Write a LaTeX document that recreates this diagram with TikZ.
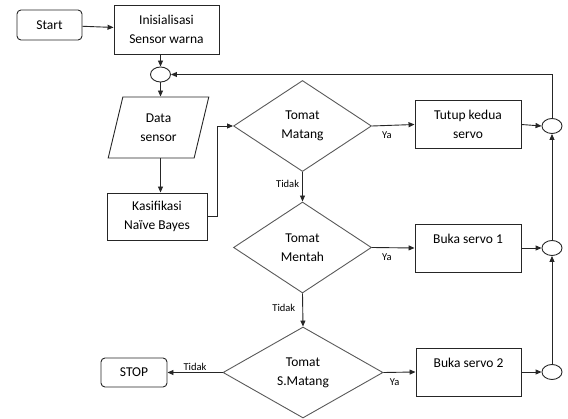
\documentclass[tikz,border=0pt]{standalone}
\usepackage{fontspec}
\setmainfont{Carlito}
\usetikzlibrary{shapes.geometric,arrows.meta}
\begin{document}
\begin{tikzpicture}[x=1pt,y=-1pt,
  every node/.style={font=\fontsize{13.5}{19}\selectfont, align=center, inner sep=0pt},
  proc/.style={draw=black!85, line width=0.9pt, minimum width=106pt, minimum height=48pt},
  term/.style={draw=black!85, line width=0.9pt, rounded corners=4pt, minimum width=65pt, minimum height=30pt},
  dec/.style={diamond, draw=black!65, line width=0.9pt, minimum width=138pt, minimum height=91pt, aspect=1.5},
  io/.style={trapezium, trapezium left angle=75, trapezium right angle=105, trapezium stretches=true, draw=black!85, line width=0.9pt, minimum width=101pt, minimum height=61pt},
  junc/.style={ellipse, draw=black!85, line width=0.9pt, minimum width=20pt, minimum height=15pt},
  lbl/.style={font=\fontsize{10.5}{12}\selectfont},
  conn/.style={draw=black!85, line width=0.9pt},
  arr/.style={conn, -{Triangle[length=6pt,width=5pt]}}
]
\useasboundingbox (0,0) rectangle (568,419);

\node[term] (start) at (49.5,25) {Start};
\node[proc, minimum width=105pt, minimum height=49pt] (init) at (166.5,29.5) {Inisialisasi\\Sensor warna};
\node[junc] (c1) at (160.5,74.5) {};
\node[io] (data) at (158.5,127.5) {Data\\sensor};
\node[proc, minimum width=100pt, minimum height=47pt] (kas) at (157,216.5) {Kasifikasi\\Naïve Bayes};

\node[dec] (d1) at (302.5,126) {Tomat\\Matang};
\node[dec] (d2) at (302.5,247.5) {Tomat\\Mentah};
\node[dec, minimum width=160pt] (d3) at (303,372.5) {Tomat\\S.Matang};

\node[proc] (p1) at (468,124.5) {Tutup kedua\\servo};
\node[proc] (p2) at (468,248) {Buka servo 1\\\mbox{}};
\node[proc, minimum width=105pt] (p3) at (468.5,372) {Buka servo 2\\\mbox{}};

\node[junc] (c2) at (552,126) {};
\node[junc] (c3) at (552,248) {};
\node[junc] (c4) at (552,372) {};

\node[term, minimum width=66pt, minimum height=29pt] (stop) at (134,372.5) {STOP};

\draw[arr] (start) -- (init);
\draw[arr] (init.south -| c1) -- (c1);
\draw[arr] (c1) -- (data.north -| c1);
\draw[arr] (data.south -| c1) -- (kas.north -| c1);
\draw[arr] (kas.east) -- ++(10,0) |- (d1.west);

\draw[arr] (d1.east) -- node[lbl, below=6pt, pos=0.35] {Ya} (p1.west);
\draw[arr] (d2.east) -- node[lbl, below=6pt, pos=0.35] {Ya} (p2.west);
\draw[arr] (d3.east) -- node[lbl, below=6pt, pos=0.35] {Ya} (p3.west);

\draw[arr] (d1.south) -- node[lbl, left=3pt, pos=0.4] {Tidak} (d2.north);
\draw[arr] (d2.south) -- node[lbl, left=7pt, pos=0.45] {Tidak} (d3.north);
\draw[arr] (d3.west) -- node[lbl, above=1pt, pos=0.5] {Tidak} (stop.east);

\draw[arr] (p1.east) -- (c2.west);
\draw[arr] (p2.east) -- (c3.west);
\draw[arr] (p3.east) -- (c4.west);

\draw[arr] (c4.north) -- (c3.south);
\draw[arr] (c3.north) -- (c2.south);
\draw[arr] (c2.north) |- (c1.east);
\end{tikzpicture}
\end{document}
